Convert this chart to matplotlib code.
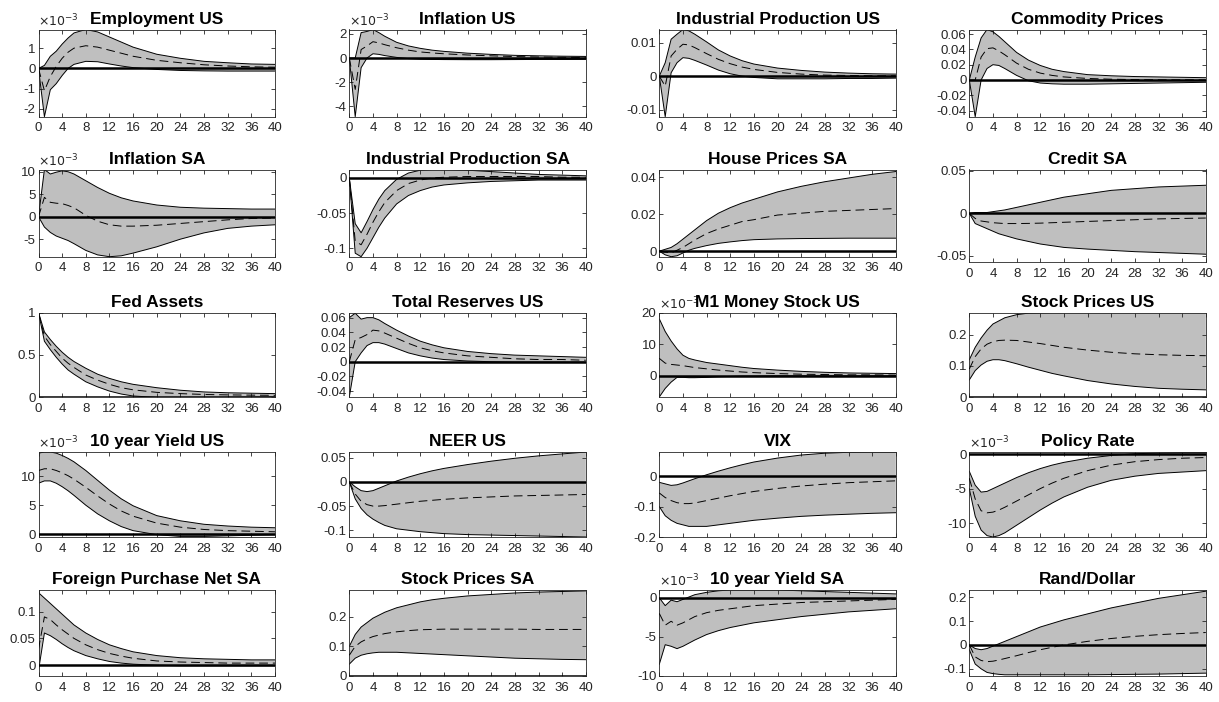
import matplotlib
matplotlib.use("Agg")
import matplotlib.pyplot as plt
from matplotlib.ticker import FixedLocator, FuncFormatter
import numpy as np

plt.rcParams['font.family'] = ['Liberation Sans', 'DejaVu Sans']

# horizons at which values were read
horizon = [0, 1, 2, 3, 4, 5, 6, 8, 10, 12, 14, 16, 20, 24, 28, 32, 36, 40]

titles = ["Employment US", "Inflation US", "Industrial Production US", "Commodity Prices",
          "Inflation SA", "Industrial Production SA", "House Prices SA", "Credit SA",
          "Fed Assets", "Total Reserves US", "M1 Money Stock US", "Stock Prices US",
          "10 year Yield US", "NEER US", "VIX", "Policy Rate",
          "Foreign Purchase Net SA", "Stock Prices SA", "10 year Yield SA", "Rand/Dollar"]

# ---- values (e-3 panels stored in true units) ----
emp_us_hi = [0, 0.15e-3, 0.6e-3, 0.85e-3, 1.2e-3, 1.5e-3, 1.75e-3, 1.92e-3, 1.8e-3, 1.55e-3, 1.3e-3, 1.05e-3, 0.7e-3, 0.5e-3, 0.35e-3, 0.28e-3, 0.22e-3, 0.2e-3]
emp_us_med = [0, -1.1e-3, -0.4e-3, 0.1e-3, 0.5e-3, 0.8e-3, 1.0e-3, 1.12e-3, 1.05e-3, 0.9e-3, 0.75e-3, 0.6e-3, 0.4e-3, 0.28e-3, 0.18e-3, 0.12e-3, 0.08e-3, 0.06e-3]
emp_us_lo = [0, -2.38e-3, -1.05e-3, -0.75e-3, -0.35e-3, 0.0, 0.2e-3, 0.35e-3, 0.33e-3, 0.22e-3, 0.12e-3, 0.04e-3, -0.05e-3, -0.1e-3, -0.12e-3, -0.13e-3, -0.13e-3, -0.13e-3]

inf_us_hi = [0, 0, 2.1e-3, 2.2e-3, 2.36e-3, 2.1e-3, 1.8e-3, 1.3e-3, 1.0e-3, 0.8e-3, 0.65e-3, 0.55e-3, 0.4e-3, 0.3e-3, 0.22e-3, 0.18e-3, 0.15e-3, 0.13e-3]
inf_us_med = [0, -2.6e-3, 0.7e-3, 1.0e-3, 1.35e-3, 1.25e-3, 1.1e-3, 0.85e-3, 0.65e-3, 0.5e-3, 0.42e-3, 0.35e-3, 0.25e-3, 0.18e-3, 0.12e-3, 0.08e-3, 0.06e-3, 0.04e-3]
inf_us_lo = [0, -4.86e-3, -0.8e-3, 0.0, 0.35e-3, 0.3e-3, 0.2e-3, 0.05e-3, -0.05e-3, -0.1e-3, -0.12e-3, -0.13e-3, -0.14e-3, -0.14e-3, -0.13e-3, -0.12e-3, -0.12e-3, -0.11e-3]

ip_us_hi = [0, 0.004, 0.011, 0.0125, 0.0139, 0.0135, 0.0125, 0.0102, 0.0078, 0.006, 0.0046, 0.0036, 0.0024, 0.0017, 0.0012, 0.0009, 0.0007, 0.0006]
ip_us_med = [0, -0.003, 0.006, 0.008, 0.0095, 0.0093, 0.0085, 0.0067, 0.005, 0.0037, 0.0027, 0.002, 0.0011, 0.0006, 0.0003, 0.0002, 0.0001, 0.0001]
ip_us_lo = [0, -0.0121, 0.001, 0.004, 0.0055, 0.0053, 0.0047, 0.0033, 0.0018, 0.0007, 0.0, -0.0004, -0.0008, -0.0008, -0.0008, -0.0007, -0.0007, -0.0006]

com_hi = [0, 0.03, 0.055, 0.066, 0.063, 0.057, 0.05, 0.036, 0.026, 0.019, 0.014, 0.011, 0.007, 0.0055, 0.0045, 0.004, 0.0035, 0.003]
com_med = [0, 0.0, 0.03, 0.041, 0.042, 0.038, 0.033, 0.022, 0.014, 0.009, 0.006, 0.004, 0.002, 0.001, 0.0005, 0.0003, 0.0002, 0.0001]
com_lo = [0, -0.048, 0.0, 0.015, 0.02, 0.019, 0.015, 0.006, -0.001, -0.004, -0.005, -0.0055, -0.0055, -0.005, -0.0045, -0.004, -0.0035, -0.003]

inf_sa_hi = [0, 10.5e-3, 9.5e-3, 9.9e-3, 10.2e-3, 10.0e-3, 9.5e-3, 8.0e-3, 6.5e-3, 5.2e-3, 4.2e-3, 3.5e-3, 2.6e-3, 2.1e-3, 1.9e-3, 1.8e-3, 1.7e-3, 1.7e-3]
inf_sa_med = [0, 4.3e-3, 3.2e-3, 3.0e-3, 2.9e-3, 2.5e-3, 2.0e-3, 0.3e-3, -1.0e-3, -1.8e-3, -2.1e-3, -2.1e-3, -1.9e-3, -1.5e-3, -1.1e-3, -0.7e-3, -0.4e-3, -0.3e-3]
inf_sa_lo = [0, -2.3e-3, -3.5e-3, -4.3e-3, -4.8e-3, -5.3e-3, -6.0e-3, -7.5e-3, -8.5e-3, -8.9e-3, -8.7e-3, -8.1e-3, -6.7e-3, -5.0e-3, -3.6e-3, -2.6e-3, -2.1e-3, -1.8e-3]

ip_sa_hi = [0, -0.065, -0.078, -0.062, -0.045, -0.03, -0.018, -0.002, 0.007, 0.011, 0.012, 0.012, 0.011, 0.009, 0.007, 0.005, 0.004, 0.003]
ip_sa_med = [0, -0.09, -0.095, -0.08, -0.063, -0.048, -0.035, -0.018, -0.008, -0.003, 0.0, 0.001, 0.002, 0.002, 0.002, 0.002, 0.001, 0.001]
ip_sa_lo = [0, -0.107, -0.112, -0.1, -0.085, -0.07, -0.057, -0.037, -0.025, -0.018, -0.013, -0.01, -0.007, -0.005, -0.004, -0.003, -0.003, -0.003]

house_hi = [0, 0.001, 0.002, 0.004, 0.0065, 0.009, 0.0115, 0.0165, 0.0205, 0.0235, 0.026, 0.028, 0.032, 0.035, 0.0375, 0.0395, 0.0415, 0.043]
house_med = [0, -0.0005, -0.001, 0.0005, 0.002, 0.004, 0.006, 0.0095, 0.012, 0.014, 0.016, 0.017, 0.0195, 0.0205, 0.0215, 0.022, 0.0225, 0.023]
house_lo = [0, -0.002, -0.003, -0.0025, -0.001, 0.0005, 0.0015, 0.003, 0.0042, 0.005, 0.0057, 0.0062, 0.0066, 0.0068, 0.0069, 0.007, 0.007, 0.007]

credit_hi = [0, 0.001, 0.001, 0.001, 0.002, 0.003, 0.004, 0.007, 0.01, 0.013, 0.016, 0.019, 0.023, 0.027, 0.029, 0.031, 0.032, 0.033]
credit_med = [0, -0.006, -0.009, -0.01, -0.011, -0.0115, -0.012, -0.012, -0.0118, -0.0115, -0.011, -0.0105, -0.0095, -0.0085, -0.0075, -0.0065, -0.006, -0.0055]
credit_lo = [0, -0.012, -0.015, -0.018, -0.021, -0.024, -0.026, -0.03, -0.033, -0.036, -0.038, -0.04, -0.042, -0.0435, -0.045, -0.046, -0.047, -0.048]

fed_hi = [1, 0.77, 0.68, 0.6, 0.53, 0.47, 0.42, 0.34, 0.27, 0.22, 0.18, 0.15, 0.11, 0.08, 0.06, 0.05, 0.045, 0.04]
fed_med = [1, 0.72, 0.62, 0.54, 0.46, 0.4, 0.35, 0.26, 0.2, 0.15, 0.11, 0.085, 0.055, 0.04, 0.03, 0.025, 0.022, 0.02]
fed_lo = [1, 0.66, 0.56, 0.47, 0.39, 0.32, 0.27, 0.18, 0.12, 0.07, 0.035, 0.012, -0.005, -0.01, -0.008, -0.005, -0.003, -0.002]

res_hi = [0.06, 0.066, 0.058, 0.06, 0.06, 0.057, 0.052, 0.043, 0.035, 0.028, 0.023, 0.019, 0.014, 0.011, 0.009, 0.008, 0.007, 0.006]
res_med = [0.0, 0.03, 0.033, 0.037, 0.043, 0.042, 0.039, 0.032, 0.025, 0.019, 0.015, 0.012, 0.008, 0.006, 0.004, 0.003, 0.003, 0.002]
res_lo = [-0.048, 0.0, 0.012, 0.022, 0.026, 0.026, 0.024, 0.018, 0.012, 0.008, 0.005, 0.003, 0.001, 0.0, -0.0005, -0.0005, -0.0005, -0.0005]

m1_hi = [18e-3, 14e-3, 11e-3, 8.5e-3, 6.5e-3, 5.5e-3, 5.0e-3, 4.2e-3, 3.7e-3, 3.2e-3, 2.7e-3, 2.3e-3, 1.8e-3, 1.4e-3, 1.1e-3, 0.9e-3, 0.8e-3, 0.7e-3]
m1_med = [5.5e-3, 4.0e-3, 3.6e-3, 3.4e-3, 3.2e-3, 2.9e-3, 2.6e-3, 2.2e-3, 1.8e-3, 1.5e-3, 1.2e-3, 1.0e-3, 0.7e-3, 0.5e-3, 0.4e-3, 0.3e-3, 0.3e-3, 0.2e-3]
m1_lo = [-6.7e-3, -4e-3, -2e-3, -0.5e-3, -0.5e-3, -0.6e-3, -0.6e-3, -0.5e-3, -0.3e-3, -0.2e-3, -0.1e-3, -0.1e-3, 0, 0, 0, 0, 0, 0]

stk_us_hi = [0.12, 0.16, 0.19, 0.215, 0.235, 0.245, 0.255, 0.265, 0.27, 0.271, 0.272, 0.272, 0.272, 0.272, 0.272, 0.272, 0.272, 0.272]
stk_us_med = [0.09, 0.13, 0.155, 0.17, 0.178, 0.182, 0.183, 0.182, 0.177, 0.172, 0.166, 0.16, 0.151, 0.144, 0.139, 0.136, 0.134, 0.133]
stk_us_lo = [0.055, 0.085, 0.103, 0.115, 0.12, 0.12, 0.117, 0.107, 0.096, 0.086, 0.076, 0.068, 0.053, 0.042, 0.034, 0.028, 0.025, 0.023]

y10_us_hi = [14e-3, 14.2e-3, 14.2e-3, 14e-3, 13.6e-3, 13.1e-3, 12.5e-3, 11e-3, 9.3e-3, 7.6e-3, 6.1e-3, 4.9e-3, 3.2e-3, 2.3e-3, 1.7e-3, 1.4e-3, 1.2e-3, 1.1e-3]
y10_us_med = [11e-3, 11.3e-3, 11.3e-3, 11e-3, 10.6e-3, 10.1e-3, 9.5e-3, 8.1e-3, 6.6e-3, 5.2e-3, 4.0e-3, 3.1e-3, 1.9e-3, 1.2e-3, 0.8e-3, 0.6e-3, 0.5e-3, 0.4e-3]
y10_us_lo = [8.8e-3, 9.2e-3, 9.2e-3, 8.8e-3, 8.2e-3, 7.5e-3, 6.7e-3, 5.0e-3, 3.5e-3, 2.3e-3, 1.3e-3, 0.6e-3, -0.1e-3, -0.4e-3, -0.4e-3, -0.3e-3, -0.2e-3, -0.1e-3]

neer_hi = [0, -0.01, -0.018, -0.02, -0.018, -0.013, -0.008, 0.002, 0.01, 0.017, 0.023, 0.028, 0.036, 0.043, 0.049, 0.054, 0.058, 0.062]
neer_med = [0, -0.025, -0.04, -0.047, -0.05, -0.05, -0.049, -0.046, -0.043, -0.04, -0.038, -0.036, -0.033, -0.031, -0.029, -0.028, -0.027, -0.026]
neer_lo = [0, -0.035, -0.055, -0.068, -0.077, -0.084, -0.09, -0.097, -0.1, -0.103, -0.105, -0.107, -0.109, -0.11, -0.111, -0.112, -0.113, -0.114]

vix_hi = [-0.02, -0.025, -0.03, -0.028, -0.022, -0.015, -0.008, 0.005, 0.017, 0.028, 0.038, 0.047, 0.06, 0.07, 0.076, 0.079, 0.08, 0.08]
vix_med = [-0.055, -0.07, -0.08, -0.087, -0.09, -0.09, -0.088, -0.08, -0.072, -0.064, -0.057, -0.05, -0.04, -0.032, -0.026, -0.021, -0.018, -0.015]
vix_lo = [-0.1, -0.13, -0.145, -0.155, -0.16, -0.165, -0.165, -0.165, -0.16, -0.155, -0.15, -0.145, -0.138, -0.132, -0.128, -0.125, -0.122, -0.12]

pol_hi = [-2.5e-3, -4.5e-3, -5.5e-3, -5.4e-3, -5.0e-3, -4.6e-3, -4.2e-3, -3.4e-3, -2.7e-3, -2.1e-3, -1.6e-3, -1.2e-3, -0.6e-3, -0.2e-3, 0.05e-3, 0.15e-3, 0.2e-3, 0.2e-3]
pol_med = [-3.5e-3, -6.5e-3, -8.2e-3, -8.5e-3, -8.4e-3, -8.1e-3, -7.7e-3, -6.8e-3, -5.9e-3, -5.0e-3, -4.2e-3, -3.5e-3, -2.4e-3, -1.6e-3, -1.1e-3, -0.8e-3, -0.6e-3, -0.5e-3]
pol_lo = [-5e-3, -9e-3, -11e-3, -11.8e-3, -12e-3, -11.8e-3, -11.4e-3, -10.3e-3, -9.2e-3, -8.1e-3, -7.1e-3, -6.2e-3, -4.8e-3, -3.8e-3, -3.2e-3, -2.8e-3, -2.6e-3, -2.4e-3]

fpn_hi = [0.135, 0.125, 0.115, 0.105, 0.095, 0.085, 0.075, 0.06, 0.048, 0.038, 0.031, 0.025, 0.018, 0.014, 0.012, 0.011, 0.01, 0.01]
fpn_med = [0.03, 0.09, 0.085, 0.075, 0.066, 0.058, 0.05, 0.038, 0.029, 0.022, 0.017, 0.013, 0.008, 0.006, 0.005, 0.004, 0.004, 0.004]
fpn_lo = [-0.01, 0.06, 0.055, 0.048, 0.04, 0.033, 0.027, 0.018, 0.012, 0.007, 0.004, 0.002, 0.0, -0.001, -0.001, -0.001, -0.001, -0.001]

stk_sa_hi = [0.1, 0.14, 0.165, 0.18, 0.195, 0.205, 0.215, 0.23, 0.24, 0.25, 0.257, 0.262, 0.27, 0.275, 0.28, 0.283, 0.285, 0.287]
stk_sa_med = [0.07, 0.1, 0.115, 0.125, 0.133, 0.138, 0.143, 0.149, 0.153, 0.156, 0.157, 0.158, 0.158, 0.158, 0.158, 0.157, 0.157, 0.157]
stk_sa_lo = [0.04, 0.06, 0.07, 0.075, 0.078, 0.08, 0.08, 0.08, 0.078, 0.076, 0.074, 0.072, 0.068, 0.064, 0.06, 0.058, 0.056, 0.055]

y10_sa_hi = [0, -1.0e-3, -0.3e-3, -0.5e-3, -0.2e-3, 0.1e-3, 0.4e-3, 0.7e-3, 0.9e-3, 1.0e-3, 1.0e-3, 1.0e-3, 1.0e-3, 0.9e-3, 0.8e-3, 0.7e-3, 0.6e-3, 0.5e-3]
y10_sa_med = [-2e-3, -3.5e-3, -3e-3, -3.5e-3, -3.2e-3, -2.8e-3, -2.4e-3, -1.9e-3, -1.6e-3, -1.4e-3, -1.2e-3, -1.0e-3, -0.8e-3, -0.6e-3, -0.5e-3, -0.4e-3, -0.3e-3, -0.2e-3]
y10_sa_lo = [-8.5e-3, -6e-3, -6.2e-3, -6.5e-3, -6.2e-3, -5.8e-3, -5.4e-3, -4.7e-3, -4.2e-3, -3.8e-3, -3.5e-3, -3.2e-3, -2.8e-3, -2.4e-3, -2.1e-3, -1.8e-3, -1.6e-3, -1.4e-3]

rand_hi = [0, -0.015, -0.02, -0.015, -0.005, 0.005, 0.015, 0.035, 0.055, 0.075, 0.09, 0.105, 0.13, 0.155, 0.175, 0.195, 0.21, 0.225]
rand_med = [0, -0.05, -0.065, -0.07, -0.068, -0.063, -0.057, -0.045, -0.032, -0.02, -0.01, 0.0, 0.015, 0.027, 0.036, 0.043, 0.048, 0.052]
rand_lo = [-0.02, -0.08, -0.1, -0.115, -0.12, -0.123, -0.125, -0.125, -0.125, -0.125, -0.125, -0.125, -0.125, -0.124, -0.123, -0.122, -0.12, -0.118]

# y tick positions per panel
yticks = [
    [-2e-3, -1e-3, 0, 1e-3], [-4e-3, -2e-3, 0, 2e-3], [-0.01, 0, 0.01], [-0.04, -0.02, 0, 0.02, 0.04, 0.06],
    [-5e-3, 0, 5e-3, 10e-3], [-0.1, -0.05, 0], [0, 0.02, 0.04], [-0.05, 0, 0.05],
    [0, 0.5, 1], [-0.04, -0.02, 0, 0.02, 0.04, 0.06], [0, 10e-3, 20e-3], [0, 0.1, 0.2],
    [0, 5e-3, 10e-3], [-0.1, -0.05, 0, 0.05], [-0.2, -0.1, 0], [-10e-3, -5e-3, 0],
    [0, 0.05, 0.1], [0, 0.1, 0.2], [-10e-3, -5e-3, 0], [-0.1, 0, 0.1, 0.2],
]
ylims = [
    (-2.38e-3, 1.92e-3), (-4.86e-3, 2.36e-3), (-0.0121, 0.0139), (-0.048, 0.066),
    (-8.9e-3, 10.5e-3), (-0.112, 0.012), (-0.003, 0.0441), (-0.0575, 0.0515),
    (0, 1), (-0.048, 0.067), (-6.7e-3, 20e-3), (0, 0.272),
    (-0.5e-3, 14.2e-3), (-0.114, 0.062), (-0.2, 0.08), (-12e-3, 0.3e-3),
    (-0.02, 0.14), (0, 0.29), (-10e-3, 1.0e-3), (-0.13, 0.23),
]
scaled = [True, True, False, False, True, False, False, False, False, False, True, False,
          True, False, False, True, False, False, True, False]

series = [
    (emp_us_lo, emp_us_med, emp_us_hi), (inf_us_lo, inf_us_med, inf_us_hi), (ip_us_lo, ip_us_med, ip_us_hi), (com_lo, com_med, com_hi),
    (inf_sa_lo, inf_sa_med, inf_sa_hi), (ip_sa_lo, ip_sa_med, ip_sa_hi), (house_lo, house_med, house_hi), (credit_lo, credit_med, credit_hi),
    (fed_lo, fed_med, fed_hi), (res_lo, res_med, res_hi), (m1_lo, m1_med, m1_hi), (stk_us_lo, stk_us_med, stk_us_hi),
    (y10_us_lo, y10_us_med, y10_us_hi), (neer_lo, neer_med, neer_hi), (vix_lo, vix_med, vix_hi), (pol_lo, pol_med, pol_hi),
    (fpn_lo, fpn_med, fpn_hi), (stk_sa_lo, stk_sa_med, stk_sa_hi), (y10_sa_lo, y10_sa_med, y10_sa_hi), (rand_lo, rand_med, rand_hi),
]

W, H = 1219, 702
fig = plt.figure(figsize=(W / 100, H / 100), dpi=100)

col_left = [38.5, 349.3, 659.3, 969.3]
col_w = 236.5
row_top = [29.5, 169.5, 312.5, 452, 590]
row_bot = [116.7, 256.7, 397, 537, 676]

TXT = (0.15, 0.15, 0.15)

def fmt_plain(v, pos):
    return '%g' % v

def fmt_e3(v, pos):
    return '%g' % round(v * 1e3, 6)

for i, (title, (lo, med, hi)) in enumerate(zip(titles, series)):
    r, c = divmod(i, 4)
    top = row_top[r]
    bot = row_bot[r]
    if i == 7:
        bot = 262.3
    ax = fig.add_axes([col_left[c] / W, 1 - bot / H, col_w / W, (bot - top) / H])
    ax.fill_between(horizon, lo, hi, facecolor=(0.75, 0.75, 0.75), edgecolor='none', zorder=1)
    ax.plot(horizon, lo, color='k', lw=0.7, zorder=2)
    ax.plot(horizon, hi, color='k', lw=0.7, zorder=2)
    ax.plot([0, 40], [0, 0], color='k', lw=1.8, zorder=3)
    ax.plot(horizon, med, color='k', lw=0.7, ls=(0, (9, 5)), zorder=4)
    ax.set_xlim(0, 40)
    ax.set_ylim(*ylims[i])
    ax.set_xticks(range(0, 41, 4))
    ax.yaxis.set_major_locator(FixedLocator(yticks[i]))
    ax.yaxis.set_major_formatter(FuncFormatter(fmt_e3 if scaled[i] else fmt_plain))
    ax.tick_params(direction='in', length=3, width=0.6, top=True, right=True,
                   labelsize=9.5, colors=TXT)
    ax.tick_params(axis='x', pad=4)
    ax.tick_params(axis='y', pad=2)
    for sp in ax.spines.values():
        sp.set_linewidth(0.6)
        sp.set_color(TXT)
    ax.set_title(title, fontsize=12.5, fontweight='bold', pad=4)
    if scaled[i]:
        ax.text(0.0, 1.005, r'$\times10^{-3}$', transform=ax.transAxes, fontsize=9,
                color=TXT, ha='left', va='bottom')

fig.savefig('out.png', dpi=100)
